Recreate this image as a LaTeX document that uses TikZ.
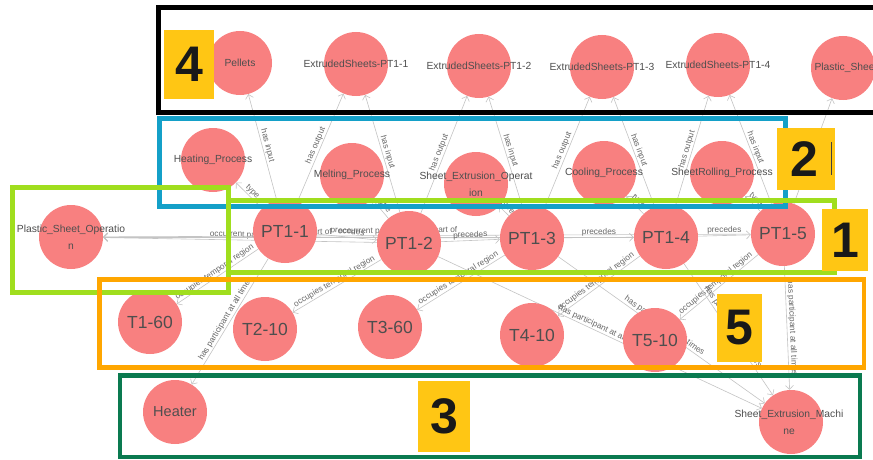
\documentclass[tikz,border=0pt]{standalone}
\usepackage{fontspec}
\setmainfont{Liberation Sans}
\usetikzlibrary{arrows.meta}
\pgfdeclarelayer{background}
\pgfsetlayers{background,main}

\definecolor{nodefill}{RGB}{248,128,128}
\definecolor{linegray}{RGB}{196,196,196}
\definecolor{labelgray}{RGB}{105,105,105}
\definecolor{textgray}{RGB}{78,78,78}
\definecolor{tagyellow}{RGB}{255,198,20}
\definecolor{boxblue}{RGB}{20,160,200}
\definecolor{boxlime}{RGB}{160,222,30}
\definecolor{boxorange}{RGB}{255,166,0}
\definecolor{boxgreen}{RGB}{10,122,80}

\tikzset{
  ent/.style={circle, fill=nodefill, minimum size=64pt, inner sep=0pt},
  ntext/.style={text=textgray, font=\fontsize{10.3}{17}\selectfont, align=center, inner sep=0pt},
  bigtext/.style={text=textgray, font=\fontsize{17.5}{19}\selectfont, inner sep=0pt},
  edge/.style={draw=linegray, line width=0.6pt, -{Straight Barb[length=4pt,width=8pt]}},
  elabel/.style={font=\fontsize{8.3}{9}\selectfont, text=labelgray, sloped, above, midway, inner sep=1pt},
  frame/.style={line width=5pt},
  tag/.style={fill=tagyellow, draw=none},
  tagdigit/.style={font=\bfseries\fontsize{50}{50}\selectfont, text=black!90, inner sep=0pt}
}

\begin{document}
\begin{tikzpicture}[x=1pt,y=-1pt]
\useasboundingbox (0,0) rectangle (873,460);
\clip (0,0) rectangle (873,460);

% ---- entities: resources (top row)
\node[ent, label={[ntext]center:Pellets}] (pellets) at (240,63) {};
\node[ent, label={[ntext]center:ExtrudedSheets-PT1-1}] (es1) at (356,64) {};
\node[ent, label={[ntext]center:ExtrudedSheets-PT1-2}] (es2) at (479,66) {};
\node[ent, label={[ntext]center:ExtrudedSheets-PT1-3}] (es3) at (602,67) {};
\node[ent, label={[ntext]center:ExtrudedSheets-PT1-4}] (es4) at (718,65) {};
\node[ent, label={[ntext, xshift=3pt]center:Plastic\_Sheet}] (ps) at (843,68) {};

% ---- process types
\node[ent, label={[ntext]center:Heating\_Process}] (heat) at (213,160) {};
\node[ent, label={[ntext]center:Melting\_Process}] (melt) at (352,175) {};
\node[ent, label={[ntext]center:Sheet\_Extrusion\_Operat\\ion}] (seo) at (476,184) {};
\node[ent, label={[ntext]center:Cooling\_Process}] (cool) at (604,173) {};
\node[ent, label={[ntext]center:SheetRolling\_Process}] (roll) at (722,173) {};

% ---- operation and its steps
\node[ent, label={[ntext]center:Plastic\_Sheet\_Operatio\\n}] (pso) at (71,237) {};
\node[ent, label={[bigtext]center:PT1-1}] (pt1) at (285,231) {};
\node[ent, label={[bigtext]center:PT1-2}] (pt2) at (409,243) {};
\node[ent, label={[bigtext]center:PT1-3}] (pt3) at (532,238) {};
\node[ent, label={[bigtext]center:PT1-4}] (pt4) at (666,237) {};
\node[ent, label={[bigtext]center:PT1-5}] (pt5) at (783,234) {};

% ---- temporal regions
\node[ent, label={[bigtext]center:T1-60}] (t1) at (150,322) {};
\node[ent, label={[bigtext]center:T2-10}] (t2) at (265,329) {};
\node[ent, label={[bigtext]center:T3-60}] (t3) at (390,327) {};
\node[ent, label={[bigtext]center:T4-10}] (t4) at (532,335) {};
\node[ent, label={[bigtext]center:T5-10}] (t5) at (655,340) {};

% ---- participants
\node[ent, label={[ntext, font=\fontsize{14.5}{16}\selectfont]center:Heater}] (heater) at (175,412) {};
\node[ent, label={[ntext, xshift=-2pt]center:Sheet\_Extrusion\_Machi\\ne}] (sem) at (791,422) {};

% ---- relations, kept beneath the entities
\begin{pgfonlayer}{background}
\fill[white] (0,0) rectangle (873,460);

\draw[edge] (pt1) -- node[elabel]{has input} (pellets);
\draw[edge] (pt1) -- node[elabel]{has output} (es1);
\draw[edge] (pt2) -- node[elabel]{has input} (es1);
\draw[edge] (pt2) -- node[elabel]{has output} (es2);
\draw[edge] (pt3) -- node[elabel]{has input} (es2);
\draw[edge] (pt3) -- node[elabel]{has output} (es3);
\draw[edge] (pt4) -- node[elabel]{has input} (es3);
\draw[edge] (pt4) -- node[elabel]{has output} (es4);
\draw[edge] (pt5) -- node[elabel]{has input} (es4);
\draw[edge] (pt5) -- node[elabel]{has output} (ps);

\draw[edge] (pt1) -- node[elabel]{type} (heat);
\draw[edge] (pt2) -- node[elabel]{type} (melt);
\draw[edge] (pt3) -- node[elabel]{type} (seo);
\draw[edge] (pt4) -- node[elabel]{type} (cool);
\draw[edge] (pt5) -- node[elabel]{type} (roll);

\draw[edge] (pt2) -- node[elabel]{occurrent part of} (pso);
\draw[edge] (pt3) -- node[elabel]{occurrent part of} (pso);
\draw[edge] (pt4) -- node[elabel]{occurrent part of} (pso);
\draw[edge] (pt5) -- node[elabel]{occurrent part of} (pso);

\draw[edge] (pt1) -- node[elabel]{precedes} (pt2);
\draw[edge] (pt2) -- node[elabel]{precedes} (pt3);
\draw[edge] (pt3) -- node[elabel]{precedes} (pt4);
\draw[edge] (pt4) -- node[elabel]{precedes} (pt5);

\draw[edge] (pt1) -- node[elabel]{occupies temporal region} (t1);
\draw[edge] (pt2) -- node[elabel]{occupies temporal region} (t2);
\draw[edge] (pt3) -- node[elabel]{occupies temporal region} (t3);
\draw[edge] (pt4) -- node[elabel]{occupies temporal region} (t4);
\draw[edge] (pt5) -- node[elabel]{occupies temporal region} (t5);

\draw[edge] (pt1) -- node[elabel]{has participant at all times} (heater);
\draw[edge] (pt2) -- node[elabel]{has participant at all times} (sem);
\draw[edge] (pt3) -- node[elabel]{has participant at all times} (sem);
\draw[edge] (pt4) -- node[elabel]{has participant at all times} (sem);
\draw[edge] (pt5) -- node[elabel]{has participant at all times} (sem);
\end{pgfonlayer}

% ---- group frames
\draw[frame, black] (158,8) rectangle (880,112.5);
\draw[frame, boxblue] (159,118) rectangle (785,206);
\draw[frame, boxlime] (12.5,187.5) rectangle (228.5,292.5);
\draw[frame, boxlime] (228.5,200) rectangle (834.5,272);
\draw[frame, line width=4.5pt, boxorange] (99.5,279.5) rectangle (864,367.5);
\draw[frame, line width=4.5pt, boxgreen] (120,375.5) rectangle (860,457);

% ---- group tags
\fill[tag] (164,30) rectangle (214,99);
\node[tagdigit] (tag4) at (189,64.5) {4};
\fill[tag] (777,128) rectangle (835,190);
\node[tagdigit] (tag2) at (804,159) {2};
\draw[line width=1pt, black!75] (831,142) -- (831,175);
\fill[tag] (822,209) rectangle (868,271);
\node[tagdigit] (tag1) at (845,240) {1};
\fill[tag] (717,294) rectangle (762,362);
\node[tagdigit] (tag5) at (739.5,328) {5};
\fill[tag] (418,381) rectangle (470,452);
\node[tagdigit] (tag3) at (444,416.5) {3};
\end{tikzpicture}
\end{document}
